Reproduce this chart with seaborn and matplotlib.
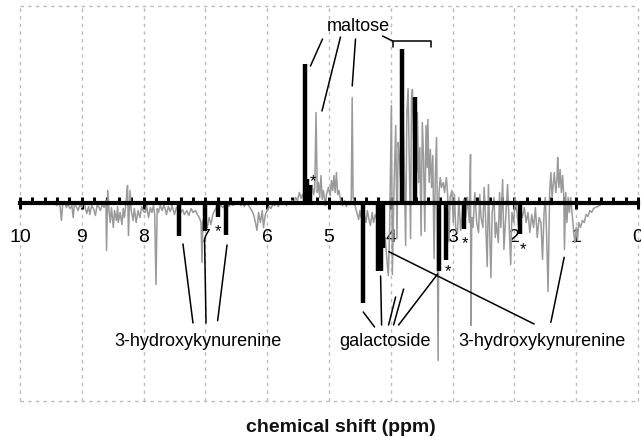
import numpy as np
import seaborn as sns
import matplotlib.pyplot as plt
from matplotlib.ticker import MultipleLocator

# gray difference spectrum (ppm, intensity in arbitrary units)
gray_ppm = [9.50, 9.47, 9.44, 9.41, 9.38, 9.35, 9.33, 9.31, 9.28, 9.25, 9.22, 9.19, 9.16, 9.14,
            9.12, 9.09, 9.06, 9.03, 9.00, 8.97, 8.94, 8.92, 8.89, 8.87, 8.84, 8.81, 8.78, 8.75,
            8.72, 8.70, 8.67, 8.64, 8.61, 8.60, 8.58, 8.56, 8.54, 8.52, 8.49, 8.47, 8.44, 8.42,
            8.41, 8.38, 8.35, 8.33, 8.31, 8.28, 8.26, 8.245, 8.23, 8.22, 8.20, 8.17, 8.15, 8.12,
            8.09, 8.06, 8.03, 8.00, 7.97, 7.95, 7.92, 7.89, 7.865, 7.84, 7.82, 7.80, 7.78, 7.76,
            7.73, 7.70, 7.67, 7.63, 7.60, 7.57, 7.54, 7.50, 7.47, 7.44, 7.40, 7.37, 7.34, 7.30,
            7.27, 7.23, 7.20, 7.16, 7.13, 7.10, 7.07, 7.055, 7.04, 7.00, 6.97, 6.94, 6.91, 6.88,
            6.85, 6.82, 6.78, 6.75, 6.72, 6.69, 6.65, 6.62, 6.58, 6.55, 6.52, 6.49, 6.46, 6.43,
            6.40, 6.37, 6.34, 6.31, 6.28, 6.25, 6.22, 6.19, 6.165, 6.14, 6.11, 6.08, 6.06, 6.03,
            6.00, 5.97, 5.94, 5.91, 5.88, 5.85, 5.82, 5.79, 5.75, 5.72, 5.69, 5.66, 5.63, 5.60,
            5.57, 5.54, 5.51, 5.48, 5.45, 5.43, 5.40, 5.36, 5.33, 5.30, 5.27, 5.25, 5.23, 5.21,
            5.19, 5.17, 5.15, 5.13, 5.11, 5.09, 5.06, 5.04, 5.01, 4.98, 4.96, 4.94, 4.92, 4.90,
            4.88, 4.86, 4.84, 4.81, 4.78, 4.75, 4.72, 4.69, 4.66, 4.64, 4.625, 4.61, 4.58, 4.55,
            4.52, 4.50, 4.48, 4.46, 4.43, 4.40, 4.38, 4.35, 4.33, 4.30, 4.28, 4.25, 4.22, 4.19,
            4.16, 4.12, 4.09, 4.06, 4.04, 4.02, 3.99, 3.975, 3.95, 3.92, 3.90, 3.88, 3.86, 3.84,
            3.80, 3.78, 3.76, 3.74, 3.72, 3.70, 3.68, 3.665, 3.65, 3.63, 3.60, 3.58, 3.57, 3.55,
            3.53, 3.51, 3.49, 3.47, 3.45, 3.43, 3.41, 3.40, 3.38, 3.36, 3.34, 3.32, 3.30, 3.28,
            3.26, 3.25, 3.235, 3.22, 3.20, 3.18, 3.15, 3.13, 3.10, 3.08, 3.06, 3.04, 3.01, 2.99,
            2.97, 2.95, 2.92, 2.90, 2.87, 2.84, 2.82, 2.79, 2.76, 2.73, 2.71, 2.705, 2.69, 2.67,
            2.64, 2.61, 2.58, 2.56, 2.54, 2.51, 2.49, 2.47, 2.44, 2.42, 2.40, 2.38, 2.36, 2.33,
            2.31, 2.29, 2.26, 2.24, 2.22, 2.19, 2.17, 2.14, 2.11, 2.08, 2.06, 2.04, 2.01, 1.99,
            1.96, 1.93, 1.90, 1.87, 1.84, 1.81, 1.78, 1.75, 1.72, 1.69, 1.66, 1.63, 1.60, 1.57,
            1.545, 1.52, 1.50, 1.48, 1.455, 1.43, 1.41, 1.39, 1.37, 1.355, 1.33, 1.31, 1.30, 1.28,
            1.26, 1.24, 1.22, 1.20, 1.19, 1.17, 1.15, 1.13, 1.11, 1.09, 1.06, 1.04, 1.02, 1.00,
            0.98, 0.96, 0.93, 0.90, 0.87, 0.84, 0.81, 0.78, 0.75, 0.72, 0.69, 0.65, 0.60, 0.55,
            0.50, 0.46]
gray_int = [0, -2, 1, -3, 0, -4, -18, -3, 1, -5, -2, -6, -3, -15,
            -2, -4, -8, -2, -5, 1, -6, -11, -4, -12, -3, -6, -13, -2,
            -5, -8, -2, -5, 2, -48, 12, -8, -20, -5, -25, -8, -18, -4,
            -20, -10, -22, -6, -15, 3, 17, -33, -5, 12, -8, -18, -6, -20,
            -8, -15, -4, -9, -10, -3, -15, -5, -10, -3, -12, -82, -6, -10,
            -3, -8, -2, -12, -4, -9, -3, -12, -5, -8, -10, -7, -12, -8,
            -13, -6, -10, -8, -12, -15, -20, -60, -18, -22, -25, -15, -22, -12,
            -8, -5, -4, -3, -5, -3, -2, -4, -1, -3, 0, -2, 1, -3,
            -1, -4, 0, -2, -5, -8, -12, -20, -28, -10, -20, -8, -25, -12,
            -8, -4, -6, -2, -3, -1, -4, 0, -2, 1, -3, 0, -2, 2,
            0, 5, 2, 10, 4, 8, 3, 5, 8, 12, 17, 8, 14, 90,
            10, 20, 5, 27, 3, 12, -3, 8, 15, 7, 22, 12, 27, 10,
            30, 8, 12, 2, -3, 2, -4, 1, -2, 3, 105, 5, -3, -10,
            -17, -8, -15, -5, -12, -20, -8, -18, -23, -10, -20, -12, -18, -25,
            -30, -45, -35, -60, -73, -30, 97, -72, 10, 77, -36, 60, 45, 20,
            85, 30, -43, 90, 114, 40, -36, 104, 113, 60, 85, 30, 90, 20,
            55, -33, 80, 45, -29, 77, 35, 83, 20, 53, 15, 47, -56, 25,
            65, 5, -158, 10, 25, 15, 20, 10, 25, 8, -39, 5, 12, -20,
            8, -25, -30, 5, -28, -10, 3, -15, 5, -20, 48, -123, -15, -25,
            10, -20, -30, 8, -15, -25, 15, -10, -64, 18, -30, -75, -10, 5,
            -35, -20, -40, 10, -25, 23, -47, -15, 18, -30, -62, -10, -20, 5,
            -10, -25, -8, -15, -5, -20, -10, -30, -12, -25, -5, -35, -15, -20,
            -57, -10, 5, -30, -89, 10, 30, 5, 20, 30, 10, 25, 45, 15,
            33, 10, 27, 5, -47, 10, -20, 5, -10, 5, -15, -30, -40, -25,
            -38, -20, -25, -18, -20, -12, -14, -8, -10, -6, -5, -4, -2, -1,
            0, 0]

# black assigned resonances
bar_ppm = [5.386, 5.35, 5.31, 3.825, 3.61,
           7.42, 7.013, 6.79, 6.666, 4.452, 4.20, 4.16, 4.12, 3.22, 3.11, 2.815, 1.913]
bar_int = [139, 24, 18, 154, 106,
           -33, -28, -14, -32, -100, -68, -68, -45, -68, -57, -26, -31]

# asterisks
star_ppm = [5.26, 6.79, 3.07, 2.80, 1.86]
star_int = [22, -28, -68, -40, -46]

tick_vals = list(range(0, 11))
tick_labels = [str(v) for v in tick_vals]

sns.set_style("white")
plt.rcParams['font.family'] = ['Liberation Sans', 'DejaVu Sans']
plt.rcParams['text.color'] = 'black'
plt.rcParams['xtick.color'] = 'black'

fig = plt.figure(figsize=(6.41, 4.39), dpi=100)
ax = fig.add_axes([20 / 641, 37 / 439, 618 / 641, 395 / 439])

sns.lineplot(x=gray_ppm, y=gray_int, sort=False, estimator=None, color='#9a9a9a',
             linewidth=1.1, ax=ax, zorder=2)
ax.vlines(bar_ppm, 0, bar_int, colors='black', linewidth=3.2, zorder=3)

for sx, sy in zip(star_ppm, star_int):
    ax.text(sx, sy, '*', ha='center', va='center', fontsize=12, zorder=4)

ax.set_xlim(10, 0)
ax.set_ylim(-198.5, 196.5)

# dashed frame and grid
grid_kw = dict(color='#bdbdbd', linewidth=1, linestyle=(0, (2.5, 3)), zorder=0, clip_on=False)
for v in tick_vals:
    ax.axvline(v, **grid_kw)
ax.axhline(196.5, **grid_kw)
ax.axhline(-198.5, **grid_kw)

for s in ['top', 'left', 'right']:
    ax.spines[s].set_visible(False)
ax.spines['bottom'].set_position(('data', 0))
ax.spines['bottom'].set_linewidth(3)
ax.spines['bottom'].set_color('black')
ax.spines['bottom'].set_zorder(2.5)

ax.set_xticks(tick_vals)
ax.set_xticklabels(tick_labels, fontsize=14)
ax.xaxis.set_minor_locator(MultipleLocator(0.2))
ax.tick_params(axis='x', which='both', bottom=True, color='black', labelcolor='black')
ax.tick_params(axis='x', which='major', direction='inout', length=8.5, width=2.2, pad=14)
ax.tick_params(axis='x', which='minor', direction='in', length=4.5, width=2.2)
ax.set_yticks([])
ax.set_xlabel('')
ax.set_ylabel('')

# annotations
ln = dict(color='black', linewidth=1.1, zorder=4)
ax.text(4.522, 177, 'maltose', ha='center', va='center', fontsize=13)
ax.plot([5.105, 5.300], [163.5, 136.5], **ln)
ax.plot([4.814, 5.114], [165.5, 91.5], **ln)
ax.plot([4.571, 4.624], [163.5, 116.5], **ln)
ax.plot([4.133, 3.971], [166.5, 161.5], **ln)
ax.plot([3.971, 3.971, 3.344, 3.344], [155.5, 161.5, 161.5, 155.5], **ln)

ax.text(7.123, -138, '3-hydroxykynurenine', ha='center', va='center', fontsize=13)
ax.plot([7.363, 7.201], [-41.5, -120.5], **ln)
ax.plot([7.013, 6.990], [-38.2, -120.5], **ln)
ax.plot([6.650, 6.802], [-42.5, -118.2], **ln)

ax.text(4.101, -138, 'galactoside', ha='center', va='center', fontsize=13)
ax.plot([4.263, 4.446], [-124.5, -109.5], **ln)
ax.plot([4.149, 4.165], [-122.5, -73.5], **ln)
ax.plot([4.036, 3.922], [-122.5, -94.5], **ln)
ax.plot([3.955, 3.793], [-122.5, -86.5], **ln)
ax.plot([3.874, 3.242], [-122.5, -71.5], **ln)

ax.text(1.556, -138, '3-hydroxykynurenine', ha='center', va='center', fontsize=13)
ax.plot([4.031, 1.681], [-49.2, -121.5], **ln)
ax.plot([1.410, 1.194], [-119.8, -54.8], **ln)

fig.text(341 / 641, 1 - 428 / 439, 'chemical shift (ppm)', ha='center', va='center',
         fontsize=14, fontweight='bold', color='#111111')

fig.savefig('out.png', dpi=100)
plt.close(fig)
